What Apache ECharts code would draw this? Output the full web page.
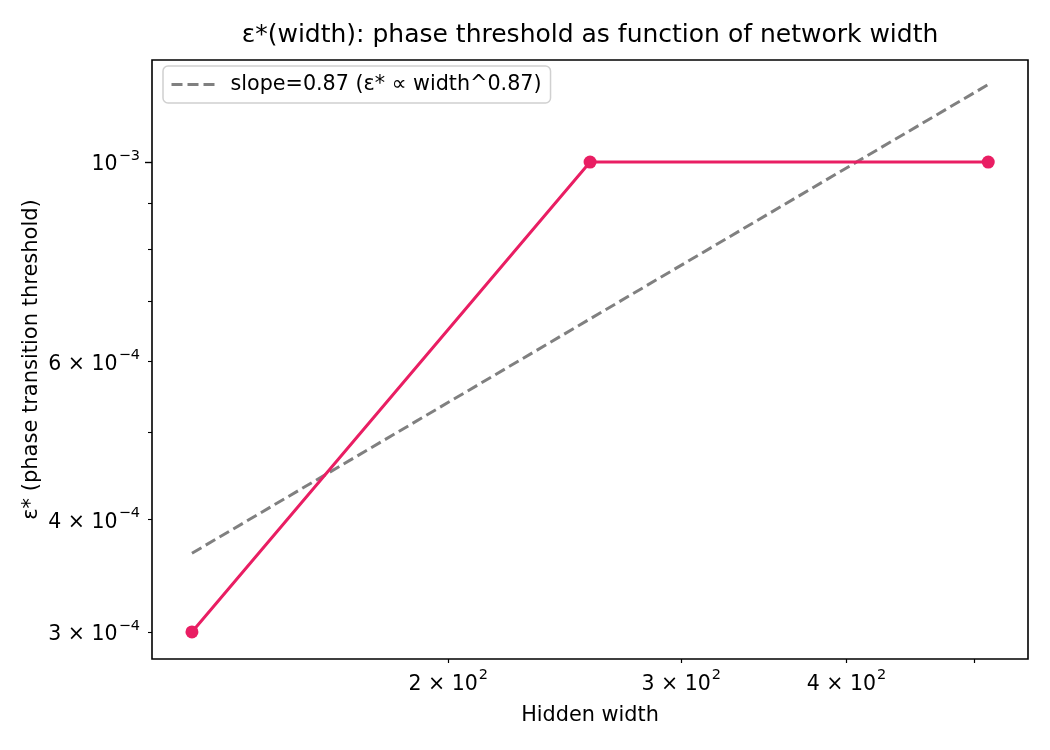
<!DOCTYPE html>
<html lang="en">
<head>
    <meta charset="UTF-8">
    <title>phase threshold vs width</title>
    <script src="https://cdn.jsdelivr.net/npm/echarts@6/dist/echarts.min.js"></script>
    <style>
        body { margin: 0; background: #fff; }
        #chart { width: 1050px; height: 750px; }
    </style>
</head>
<body>
    <div id="chart"></div>
    <script>
        // values
        var widths = [128, 256, 512]
        var epsStar = [3.0e-4, 1.0e-3, 1.0e-3]
        var fitWidths = [128, 512]
        var fitEps = [3.67e-4, 1.22e-3]
        var fitName = 'slope=0.87 (ε* ∝ width^0.87)'

        // tick positions + label text (mantissa, exponent)
        var xLabelVals = [200, 300, 400]
        var xLabelText = [['2', '2'], ['3', '2'], ['4', '2']]
        var xMinorTicks = [200, 300, 400, 500]
        var yLabelVals = [3e-4, 4e-4, 6e-4, 1e-3]
        var yLabelText = [['3', '−4'], ['4', '−4'], ['6', '−4'], ['', '−3']]
        var yMajorTicks = [1e-3]
        var yMinorTicks = [3e-4, 4e-4, 5e-4, 6e-4, 7e-4, 8e-4, 9e-4]

        var FONT = 'DejaVu Sans'
        var PINK = '#E91E63'

        function pickLabel(vals, texts, v) {
            var best = 0
            for (var i = 1; i < vals.length; i++) {
                if (Math.abs(Math.log(vals[i] / v)) < Math.abs(Math.log(vals[best] / v))) best = i
            }
            var t = texts[best]
            var m = t[0] ? t[0] + ' × 10' : '10'
            return '{m|' + m + '}{e|' + t[1] + '}'
        }

        var richLbl = {
            m: { fontSize: 20.5, fontFamily: FONT, color: '#000', lineHeight: 27, verticalAlign: 'bottom' },
            e: { fontSize: 14.5, fontFamily: FONT, color: '#000', lineHeight: 27, verticalAlign: 'top', padding: [0, 0, 0, 1] }
        }

        var chart = echarts.init(document.getElementById('chart'))
        var option = {
            animation: false,
            backgroundColor: '#fff',
            graphic: [{
                type: 'text',
                x: 590, y: 35,
                style: {
                    text: 'ε*(width): phase threshold as function of network width',
                    fontSize: 25, fontFamily: FONT, fill: '#000',
                    textAlign: 'center', textVerticalAlign: 'middle'
                }
            }],
            grid: {
                left: 152, right: 22, top: 60, bottom: 91,
                show: true, borderColor: '#000', borderWidth: 1.6,
                backgroundColor: 'transparent'
            },
            legend: {
                left: 163, top: 66,
                data: [{ name: fitName, itemStyle: { opacity: 0 } }],
                itemWidth: 43, itemHeight: 14,
                padding: [8, 9, 8, 7],
                backgroundColor: '#fff',
                borderColor: '#d0d0d0', borderWidth: 1.5, borderRadius: 5,
                lineStyle: { width: 3, type: [11, 5], color: '#808080' },
                textStyle: { fontSize: 20.7, fontFamily: FONT, color: '#000', padding: [0, 0, 0, 11] }
            },
            xAxis: [{
                type: 'log', logBase: 10,
                min: 119.4, max: 548.7,
                name: 'Hidden width', nameLocation: 'middle', nameGap: 46,
                nameTextStyle: { fontSize: 20.8, fontFamily: FONT, color: '#000' },
                axisLine: { show: false },
                splitLine: { show: false },
                axisTick: { show: true, customValues: xMinorTicks, length: 4, lineStyle: { color: '#000', width: 1.2 } },
                axisLabel: {
                    customValues: xLabelVals, margin: 9,
                    formatter: function (v) { return pickLabel(xLabelVals, xLabelText, v) },
                    rich: richLbl
                }
            }],
            yAxis: [{
                type: 'log', logBase: 10,
                min: 2.799e-4, max: 1.299e-3,
                name: 'ε* (phase transition threshold)', nameLocation: 'middle', nameGap: 110,
                nameMoveOverlap: false,
                nameRotate: 90,
                nameTextStyle: { fontSize: 21, fontFamily: FONT, color: '#000' },
                axisLine: { show: false },
                splitLine: { show: false },
                axisTick: { show: true, customValues: yMajorTicks, length: 7, lineStyle: { color: '#000', width: 1.4 } },
                axisLabel: {
                    customValues: yLabelVals, margin: 12,
                    formatter: function (v) { return pickLabel(yLabelVals, yLabelText, v) },
                    rich: richLbl
                }
            }, {
                type: 'log', logBase: 10,
                min: 2.799e-4, max: 1.299e-3,
                position: 'left',
                axisLine: { show: false },
                splitLine: { show: false },
                axisLabel: { show: false },
                axisTick: { show: true, customValues: yMinorTicks, length: 4, lineStyle: { color: '#000', width: 1.1 } }
            }],
            series: [{
                name: fitName,
                type: 'line',
                data: fitWidths.map(function (w, i) { return [w, fitEps[i]] }),
                showSymbol: false, symbol: 'none',
                lineStyle: { color: '#808080', width: 3, type: [11, 5] },
                itemStyle: { color: '#808080' },
                z: 2
            }, {
                name: 'eps',
                type: 'line',
                data: widths.map(function (w, i) { return [w, epsStar[i]] }),
                symbol: 'circle', symbolSize: 13,
                lineStyle: { color: PINK, width: 3 },
                itemStyle: { color: PINK },
                z: 3
            }]
        }
        chart.setOption(option)
    </script>
</body>
</html>
